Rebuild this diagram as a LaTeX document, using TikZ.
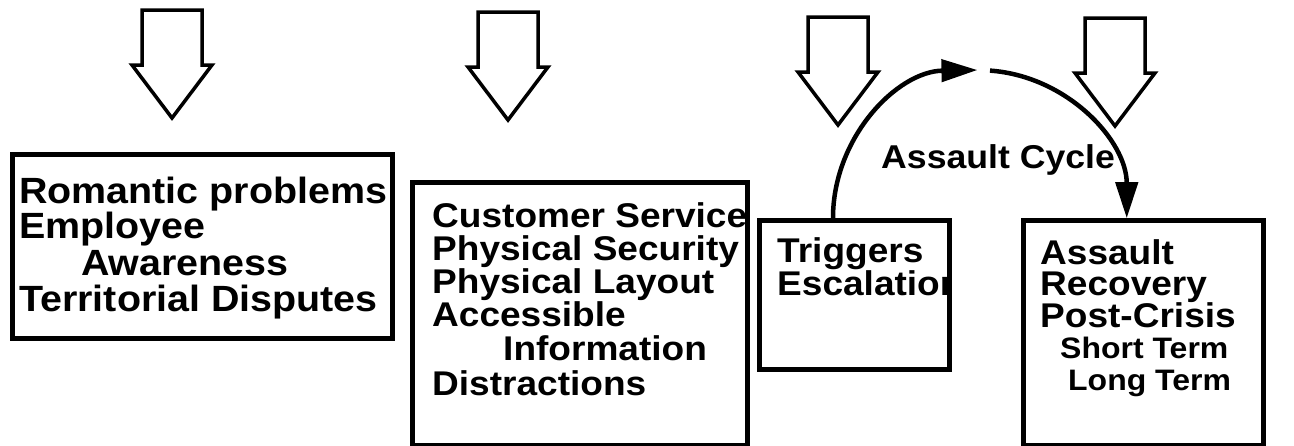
\documentclass[tikz,border=0pt]{standalone}
\usepackage{fontspec}
\setmainfont{Liberation Sans}[FakeStretch=1.08]
\usetikzlibrary{arrows.meta}
\begin{document}
\begin{tikzpicture}[x=1pt,y=1pt,
  panel/.style={draw, line width=4.5pt, inner sep=0pt, anchor=north west},
  entry/.style={anchor=base west, inner sep=0pt, font=\fontsize{34.3}{38}\selectfont\bfseries},
  bigentry/.style={entry, font=\fontsize{36.5}{40}\selectfont\bfseries},
  subentry/.style={entry, font=\fontsize{29.6}{33}\selectfont\bfseries},
  cyclelabel/.style={entry, font=\fontsize{33}{36}\selectfont\bfseries},
  blockarrow/.style={draw, line width=3.5pt, line join=miter, fill=white},
  cyclearrow/.style={line width=4.5pt, -{Triangle[length=36pt,width=22pt]}},
  downarrow/.pic={\draw[blockarrow] (-30,0) -- (30,0) -- (30,-55) -- (40,-55)
      -- (0,-108) -- (-40,-55) -- (-30,-55) -- cycle;}
]
\useasboundingbox (0,0) rectangle (1294,-445);

% hollow arrows feeding each stage
\pic at (172,-10) {downarrow};
\pic at (508,-12) {downarrow};
\pic at (838,-17) {downarrow};
\pic at (1115,-18) {downarrow};

% stage boxes
\node[panel, minimum width=380pt, minimum height=184pt] (b1) at (10,-152) {};
\node[panel, minimum width=335pt, minimum height=263pt] (b2) at (410,-180) {};
\node[panel, minimum width=190pt, minimum height=149pt] (b3) at (757,-218) {};
\node[panel, minimum width=240pt, minimum height=225pt] (b4) at (1021,-218) {};

% stage contents
\begin{scope}
  \clip (b1.north west) rectangle (b1.south east);
  \node[bigentry] (t1a) at (19,-203) {Romantic problems};
  \node[bigentry] (t1b) at (19,-238) {Employee};
  \node[bigentry] (t1c) at (81,-275) {Awareness};
  \node[bigentry] (t1d) at (19,-311) {Territorial Disputes};
\end{scope}
\begin{scope}
  \clip (b2.north west) rectangle (b2.south east);
  \node[entry] (t2a) at (432,-227) {Customer Service};
  \node[entry] (t2b) at (432,-260) {Physical Security};
  \node[entry] (t2c) at (432,-293) {Physical Layout};
  \node[entry] (t2d) at (432,-326) {Accessible};
  \node[entry] (t2e) at (503,-360) {Information};
  \node[entry] (t2f) at (432,-395) {Distractions};
\end{scope}
\begin{scope}
  \clip (b3.north west) rectangle (b3.south east);
  \node[entry] (t3a) at (777,-262) {Triggers};
  \node[entry] (t3b) at (777,-295) {Escalation};
\end{scope}
\begin{scope}
  \clip (b4.north west) rectangle (b4.south east);
  \node[entry] (t4a) at (1040,-264) {Assault};
  \node[entry] (t4b) at (1040,-295) {Recovery};
  \node[entry] (t4c) at (1040,-327) {Post-Crisis};
  \node[subentry] (t4d) at (1060,-358) {Short Term};
  \node[subentry] (t4e) at (1068,-390) {Long Term};
\end{scope}

% assault cycle
\coordinate (cycL) at (833,-218);
\coordinate (cycR) at (990,-70.6);
\draw[cyclearrow] (cycL) arc[start angle=180, end angle=91, x radius=147pt, y radius=148pt];
\draw[cyclearrow] (cycR) arc[start angle=86, end angle=0, x radius=147pt, y radius=148pt];
\node[cyclelabel] (cyc) at (881,-168) {Assault Cycle};
\end{tikzpicture}
\end{document}
